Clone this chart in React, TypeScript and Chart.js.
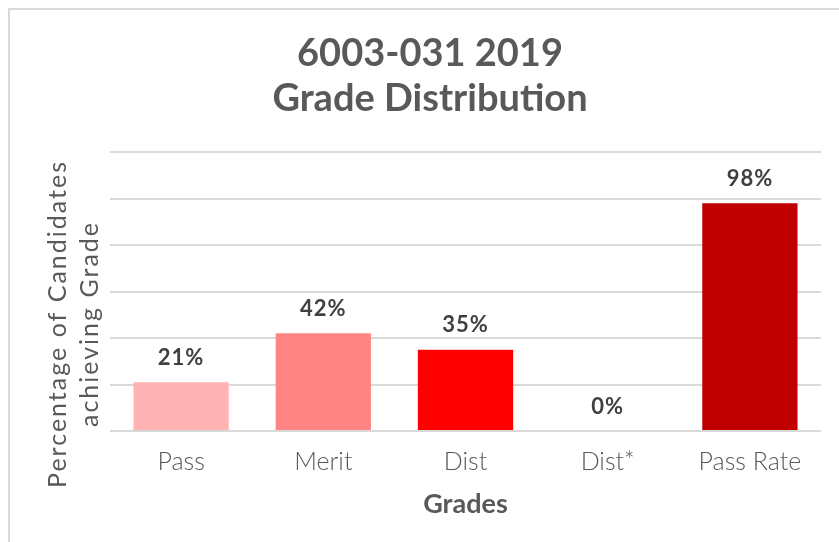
import React, { useEffect, useRef } from "react";
import { Chart, registerables } from "chart.js";

Chart.register(...registerables);

const categories = ["Pass", "Merit", "Dist", "Dist*", "Pass Rate"];
const values = [21, 42, 35, 0, 98];
const barColors = ["#FFB3B4", "#FF8585", "#FF0000", "#FF0000", "#C00000"];
const titleLines = ["6003-031 2019", "Grade Distribution"];
const yTitleLines = ["Percentage of Candidates", "achieving Grade"];
const xTitle = "Grades";

const TEXT = "#595959";
const LABEL = "#404040";
const GRID = "#D9D9D9";

const valueLabels = {
  id: "valueLabels",
  afterDatasetsDraw(chart: any) {
    const ctx = chart.ctx;
    const meta = chart.getDatasetMeta(0);
    ctx.save();
    ctx.font = "bold 22px Lato";
    ctx.fillStyle = LABEL;
    ctx.textAlign = "center";
    ctx.textBaseline = "alphabetic";
    (ctx as any).letterSpacing = "1px";
    meta.data.forEach((bar: any, i: number) => {
      ctx.fillText(values[i] + "%", bar.x, bar.y - 17.5);
    });
    ctx.restore();
  },
};

const yTitle = {
  id: "yTitle",
  afterDraw(chart: any) {
    const ctx = chart.ctx;
    const area = chart.chartArea;
    ctx.save();
    ctx.font = "25px Lato";
    ctx.fillStyle = TEXT;
    ctx.textAlign = "center";
    ctx.textBaseline = "alphabetic";
    (ctx as any).letterSpacing = "2px";
    ctx.translate(0, area.bottom - 107);
    ctx.rotate(-Math.PI / 2);
    ctx.fillText(yTitleLines[0], 0, 66);
    ctx.fillText(yTitleLines[1], 0, 98);
    ctx.restore();
  },
};

export default function App() {
  const ref = useRef<HTMLCanvasElement | null>(null);

  useEffect(() => {
    let chart: Chart | null = null;
    let cancelled = false;
    const fonts = [
      "bold 38px Lato",
      "300 25px Lato",
      "25px Lato",
      "bold 22px Lato",
    ];
    Promise.all(fonts.map((f) => document.fonts.load(f).catch(() => null))).then(() => {
      if (cancelled || !ref.current) return;
      chart = new Chart(ref.current, {
        type: "bar",
        data: {
          labels: categories,
          datasets: [
            {
              data: values,
              backgroundColor: barColors,
              borderWidth: 0,
              categoryPercentage: 1,
              barPercentage: 0.67,
            },
          ],
        },
        plugins: [valueLabels, yTitle],
        options: {
          responsive: false,
          maintainAspectRatio: false,
          animation: false,
          layout: { padding: { left: 39, right: 18, top: 0, bottom: 20 } },
          plugins: {
            legend: { display: false },
            tooltip: { enabled: false },
            title: {
              display: true,
              text: titleLines,
              color: TEXT,
              font: { family: "Lato", size: 38, weight: "bold", lineHeight: 45 / 38 },
              padding: { top: 31, bottom: 31 },
            },
          },
          scales: {
            x: {
              grid: { display: false },
              border: { display: false },
              ticks: {
                color: TEXT,
                font: { family: "Lato", size: 25, weight: "300" },
                padding: 8,
              },
              title: {
                display: true,
                text: xTitle,
                color: TEXT,
                font: { family: "Lato", size: 27, weight: "bold" },
                padding: { top: 0, bottom: 2 },
              },
              afterFit: (scale: any) => {
                scale.height = 91;
              },
            },
            y: {
              min: 0,
              max: 120,
              ticks: { display: false, stepSize: 20 },
              grid: { color: GRID, lineWidth: 2, drawTicks: false },
              border: { display: false },
              afterFit: (scale: any) => {
                scale.width = 71;
              },
            },
          },
        },
      });
    });
    return () => {
      cancelled = true;
      if (chart) chart.destroy();
    };
  }, []);

  return (
    <div
      style={{
        position: "fixed",
        left: 0,
        top: 0,
        width: 839,
        height: 542,
        overflow: "hidden",
        background: "#ffffff",
      }}
    >
      <div
        style={{
          position: "absolute",
          left: 8,
          top: 8,
          width: 900,
          height: 600,
          borderLeft: "2px solid #D9D9D9",
          borderTop: "2px solid #D9D9D9",
        }}
      />
      <canvas
        ref={ref}
        width={839}
        height={542}
        style={{ position: "absolute", left: 0, top: 0, display: "block" }}
      />
    </div>
  );
}
